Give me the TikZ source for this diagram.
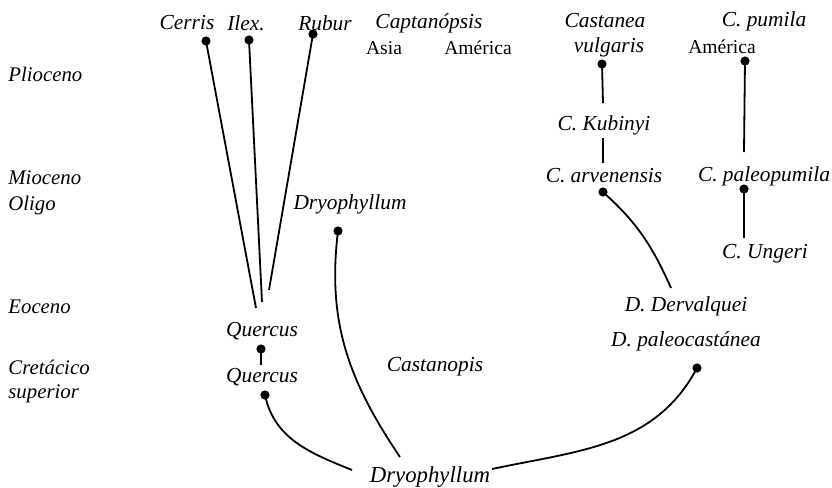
\documentclass[tikz,border=0pt]{standalone}
\usepackage{fontspec}
\setmainfont{Liberation Serif}
\usepackage{tikz}
\usetikzlibrary{
	arrows.meta,
	positioning,
	calc
}

\begin{document}
\begin{tikzpicture}[x=0.5pt,y=-0.5pt,
		taxon/.style={font=\fontsize{10.7}{12}\selectfont\itshape,inner sep=1pt},
		region/.style={font=\fontsize{9.8}{12}\selectfont,inner sep=1pt},
		epoch/.style={font=\fontsize{10.4}{12}\selectfont\itshape,inner sep=0pt,anchor=west},
		knob/.style={circle,fill,inner sep=0pt,minimum size=4.6pt},
		branch/.style={line width=0.9pt}]
		
		\useasboundingbox (0,0) rectangle (832,488);
		
		% epochs
		\node[epoch] (plio) at (8,74) {Plioceno};
		\node[epoch] (mio) at (8,178) {Mioceno};
		\node[epoch] (oligo) at (8,205) {Oligo};
		\node[epoch] (eoc) at (8,307) {Eoceno};
		\node[epoch] (cret) at (8,367) {Cretácico};
		\node[epoch] (sup) at (8,394) {superior};
		
		% top row
		\node[taxon] (cerris) at (187,23) {Cerris};
		\node[taxon] (ilex) at (246,23) {Ilex.};
		\node[taxon] (rubur) at (325,23) {Rubur};
		\node[taxon] (captan) at (429,23) {Captanópsis};
		\node[region] (asia) at (384,48) {Asia};
		\node[region] (amer) at (478,48) {América};
		\node[taxon] (castanea) at (605,21) {Castanea};
		\node[taxon] (vulgaris) at (609,47) {vulgaris};
		\node[taxon] (pumila) at (764,21) {C. pumila};
		\node[region] (amer2) at (722,47) {América};
		
		% chestnut line
		\node[taxon] (kubinyi) at (604,125) {C. Kubinyi};
		\node[taxon] (arven) at (604,176) {C. arvenensis};
		\node[taxon] (paleopum) at (764,176) {C. paleopumila};
		\node[taxon] (ungeri) at (765,254) {C. Ungeri};
		\node[taxon] (derval) at (686,306) {D. Dervalquei};
		\node[taxon] (paleocast) at (686,341) {D. paleocastánea};
		
		% oak line
		\node[taxon] (dryomid) at (350,204) {Dryophyllum};
		\node[taxon] (quercus) at (262,331) {Quercus};
		\node[taxon] (quercuslow) at (262,377) {Quercus};
		\node[taxon] (castanop) at (435,367) {Castanopis};
		\node[taxon,font=\fontsize{11.4}{12}\selectfont\itshape] (dryo) at (430,477) {Dryophyllum};
		
		% dots
		\node[knob] (cerrisdot) at (206,41) {};
		\node[knob] (ilexdot) at (249,40) {};
		\node[knob] (ruburdot) at (313,34) {};
		\node[knob] (vulgdot) at (602,64) {};
		\node[knob] (pumdot) at (745,61) {};
		\node[knob] (arvdot) at (603,192) {};
		\node[knob] (ppumdot) at (744,189) {};
		\node[knob] (pcastdot) at (697,368) {};
		\node[knob] (dryomiddot) at (338,231) {};
		\node[knob] (querdot) at (261,349) {};
		\node[knob] (querlowdot) at (265,395) {};
		
		% free ends
		\coordinate (cerrisend) at (256,308);
		\coordinate (ilexend) at (262,302);
		\coordinate (ruburend) at (269,290);
		\coordinate (vulgend) at (603,103);
		\coordinate (kubend) at (603,138);
		\coordinate (arvtop) at (603,163);
		\coordinate (pumend) at (744,152);
		\coordinate (ungtop) at (744,238);
		\coordinate (dervend) at (671,288);
		\coordinate (dryoleft) at (352,470);
		\coordinate (dryotop) at (400,457);
		\coordinate (dryoright) at (492,469);
		\coordinate (querend) at (261,365);
		
		% straight branches
		\draw[branch] (cerrisdot.center) -- (cerrisend);
		\draw[branch] (ilexdot.center) -- (ilexend);
		\draw[branch] (ruburdot.center) -- (ruburend);
		\draw[branch] (vulgdot.center) -- (vulgend);
		\draw[branch] (kubend) -- (arvtop);
		\draw[branch] (pumdot.center) -- (pumend);
		\draw[branch] (ppumdot.center) -- (ungtop);
		\draw[branch] (querdot.center) -- (querend);
		
		% curved branches
		\draw[branch] (arvdot.center) to[out=-42,in=114] (dervend);
		\draw[branch] (querlowdot.center) to[out=-78,in=158] (dryoleft);
		\draw[branch] (dryomiddot.center) to[out=-97,in=124] (dryotop);
		\draw[branch] (dryoright) to[out=12,in=-118] (pcastdot.center);
		
	\end{tikzpicture}
\end{document}
